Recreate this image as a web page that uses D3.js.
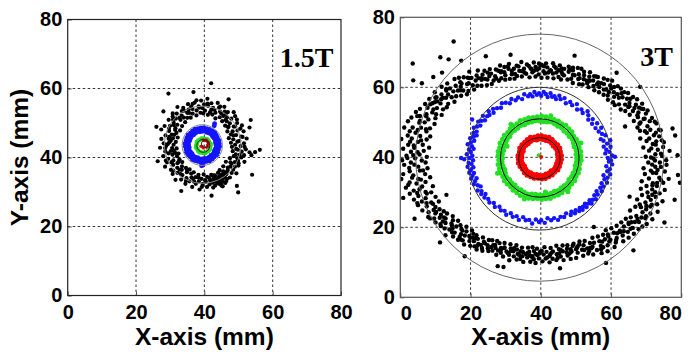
<!DOCTYPE html>
<html>
<head>
<meta charset="utf-8">
<script src="https://cdn.jsdelivr.net/npm/d3@7"></script>
<style>
  body { margin: 0; background: #fff; }
  svg { display: block; }
  .tick text { font-family: "Liberation Sans", Arial, sans-serif; font-weight: bold; font-size: 20px; fill: #000; }
  .axis-title { font-family: "Liberation Sans", Arial, sans-serif; font-weight: bold; font-size: 24.5px; }
  .field-label { font-family: "Liberation Serif", "Times New Roman", serif; font-weight: bold; font-size: 28px; }
</style>
</head>
<body>
<div id="root"></div>
<script>
// Axis ticks (mm)
const axisTicks = [0, 20, 40, 60, 80];
const gridTicks = [20, 40, 60];
const fieldLabels = ["1.5T", "3T"];

// Points as [angle deg, distance mm] from each ring centre.
// ---- 1.5T ----
const center15Black = [39.5, 43.7];
const black15 = [
  [0,9.5],[2,12.1],[4,8.3],[6,10.8],[8,13.0],[10,9.1],[12,11.5],[14,7.9],[16,10.2],[18,12.6],[20,8.8],[22,11.0],[24,9.6],[26,12.8],[28,8.2],[30,10.5],
  [32,11.9],[34,9.0],[36,12.4],[38,10.1],[40,8.6],[42,11.3],[44,9.8],[46,13.1],[48,10.7],[50,8.9],[52,12.0],[54,10.3],[56,11.6],[58,9.4],[60,12.7],
  [62,10.9],[64,8.5],[66,11.8],[68,10.0],[70,12.9],[72,9.2],[74,11.1],[76,10.4],[78,12.3],[80,8.8],[82,11.4],[84,13.4],[86,9.9],[88,11.7],[90,10.6],
  [92,12.8],[94,9.3],[96,11.2],[98,13.0],[100,10.1],[102,8.7],[104,12.2],[106,10.8],[108,9.5],[110,12.5],[112,11.0],[114,8.6],[116,10.3],[118,12.1],
  [120,9.0],[122,11.5],[124,13.2],[126,10.4],[128,8.3],[130,11.8],[132,9.7],[134,12.6],[136,10.9],[138,8.1],[140,11.3],[142,9.4],[144,12.3],[146,10.2],
  [148,7.8],[150,11.0],[152,9.1],[154,12.4],[156,8.4],[158,10.6],[160,12.9],[162,9.5],[164,7.6],[166,11.2],[168,8.9],[170,10.1],[172,12.2],[174,7.9],
  [176,9.8],[178,11.4],[180,8.5],[182,10.7],[184,12.5],[186,9.0],[188,7.7],[190,11.1],[192,8.6],[194,10.3],[196,12.0],[198,9.3],[200,7.5],[202,10.9],
  [204,8.2],[206,11.6],[208,9.7],[210,12.7],[212,8.0],[214,10.4],[216,9.1],[218,11.8],[220,7.8],[222,10.0],[224,12.2],[226,8.7],[228,11.0],[230,9.5],
  [232,12.9],[234,8.3],[236,10.6],[238,11.9],[240,9.2],[242,8.1],[244,10.8],[246,12.4],[248,9.0],[250,11.3],[252,8.4],[254,10.2],[256,12.6],[258,9.6],
  [260,11.5],[262,8.8],[264,10.7],[266,13.0],[268,9.9],[270,11.4],[272,8.6],[274,10.3],[276,12.3],[278,9.4],[280,11.7],[282,10.5],[284,12.8],[286,9.1],
  [288,11.2],[290,10.0],[291,12.0],[292,9.6],[294,11.0],[295,13.1],[296,10.4],[298,12.2],[299,9.3],[300,11.5],[302,10.2],[303,12.6],[304,8.9],[306,11.1],
  [308,9.8],[310,12.4],[312,10.6],[314,8.7],[316,11.8],[318,9.9],[320,12.9],[322,10.3],[324,8.4],[326,11.4],[328,9.6],[330,12.1],[332,10.7],[334,8.9],
  [336,11.3],[338,13.2],[340,9.7],[342,11.9],[344,10.1],[346,12.5],[348,9.0],[350,11.6],[351,13.9],[352,10.4],[354,12.7],[356,8.6],[358,11.1],
  [283,10.9],[287,12.4],[293,11.6],[297,10.8],[301,12.9],[305,10.5],[289,9.4],[296,13.4],
  [82,18.0],[124,17.9],[307,17.3],[329,16.9],[27,15.8],[159,14.5],[352,15.5],[355,16.8],[348,14.6],[200,14.0],[245,14.8],[280,15.0],
  [100,15.5],[60,15.2],[140,15.0],[310,15.6],[20,14.6],
  [5,10.2],[11,11.9],[17,9.4],[23,12.0],[29,10.9],[35,9.2],[41,12.6],[47,9.9],[53,11.2],[59,10.6],[65,12.2],[71,10.7],[77,9.6],[83,12.0],[89,9.1],
  [95,10.8],[101,12.4],[107,11.5],[113,10.0],[119,11.3],[125,9.6],[131,10.3],[137,12.0],[143,10.6],[149,9.3],[155,10.9],[161,8.8],[167,10.0],[173,9.4],
  [179,10.2],[185,11.0],[191,9.5],[197,8.3],[203,11.7],[209,10.4],[215,8.6],[221,11.4],[227,9.9],[233,10.7],[239,8.8],[245,11.6],[251,10.0],[257,11.0],
  [263,9.6],[269,12.2],[275,10.8],[281,9.8],[285,11.4],[288,10.2],[291,10.8],[294,12.5],[297,11.9],[300,10.3],[303,11.4],[306,12.2],[309,11.0],[315,10.4],
  [321,11.5],[327,10.1],[333,11.8],[339,10.8],[345,11.2],[353,9.9],[357,12.3]
];
const center15Blue = [39.4, 43.6];
const blue15 = [
  [0,4.0],[10,3.9],[20,4.1],[30,4.0],[40,3.9],[50,4.1],[60,4.0],[70,3.9],[80,4.1],[90,4.0],[100,3.9],[110,4.1],[120,4.0],[130,3.9],[140,4.1],[150,4.0],
  [160,3.9],[170,4.1],[180,4.0],[190,3.9],[200,4.1],[210,4.0],[220,3.9],[230,4.1],[240,4.0],[250,3.9],[260,4.1],[270,4.0],[280,3.9],[290,4.1],[300,4.0],
  [310,3.9],[320,4.1],[330,4.0],[340,3.9],[350,4.1],
  [5,5.0],[15,5.1],[25,4.9],[35,5.0],[45,5.2],[55,5.1],[65,5.0],[75,4.9],[85,5.1],[95,5.0],[105,4.9],[115,5.1],[125,5.0],[135,4.9],[145,5.1],[155,5.0],
  [165,4.9],[175,5.1],[185,5.0],[195,4.9],[205,5.1],[215,5.0],[225,4.9],[235,5.1],[245,5.0],[255,4.9],[265,5.1],[275,5.0],[285,4.9],[295,5.1],[305,5.0],
  [315,4.9],[325,5.1],[335,5.0],[345,4.9],[355,5.1],
  [58,6.6],[60,7.2],[268,6.0],[272,5.8]
];
const center15Green = [39.7, 43.4];
const green15 = [
  [0,2.1],[15,2.2],[30,2.0],[45,2.1],[60,2.2],[75,2.0],[90,2.1],[105,2.2],[120,2.0],[135,2.1],[150,2.2],[165,2.0],
  [180,2.1],[195,2.2],[210,2.0],[225,2.1],[240,2.2],[255,2.0],[270,2.1],[285,2.2],[300,2.0],[315,2.1],[330,2.2],[345,2.0]
];
const center15Red = [40.1, 43.9];
const red15 = [[0,1.0],[20,1.2],[45,1.1],[70,1.3],[90,1.0],[110,1.2],[210,1.3],[230,1.0],[250,1.2],[300,1.1],[320,1.2],[340,0.9]];
// fitted circles [cx, cy, r]
const fits15 = [[39.5, 43.7, 11.2], [39.4, 43.6, 5.9], [39.7, 43.4, 1.9], [40.1, 43.9, 1.0]];

// ---- 3T ----
const center3Black = [38.5, 38.5];
const black3 = [
  [0,32.1],[0,35.4],[1,37.2],[2,33.6],[3,31.4],[3,36.1],[4,34.2],[5,38.3],[6,32.5],[6,35.0],[7,36.6],[8,31.0],[9,33.8],[9,37.0],[10,34.9],[11,32.2],
  [12,36.0],[12,33.1],[13,30.6],[14,35.3],[15,32.8],[15,36.4],[16,34.0],[17,31.1],[18,33.5],[18,36.2],[19,30.7],[20,34.6],[21,32.0],[21,35.5],[22,33.2],
  [23,30.4],[24,34.4],[24,31.9],[25,35.2],[26,32.6],[27,30.1],[27,33.9],[28,31.4],[29,34.7],[29,32.2],[3,40.5],[14,40.2],[11,40.5],[22,27.5],
  [30,29.5],[30,33.0],[31,31.2],[32,28.6],[32,34.1],[33,30.4],[34,32.6],[35,29.0],[35,31.8],[36,27.9],[37,33.0],[38,30.1],[38,28.0],[39,31.5],[40,29.2],
  [41,27.3],[41,32.2],[42,30.0],[43,28.1],[44,31.1],[44,29.0],[45,27.4],[46,30.6],[47,28.5],[47,32.0],[48,27.0],[49,29.7],[50,28.2],[51,30.9],[51,26.6],
  [52,29.0],[53,27.4],[54,30.2],[55,26.3],[55,28.6],[56,29.8],[57,27.0],[58,28.9],[59,26.0],[59,30.1],[36,36.8],[48,34.5],
  [60,27.5],[61,25.6],[62,29.4],[63,26.8],[64,28.1],[65,25.1],[66,27.3],[66,29.6],[67,26.0],[68,28.4],[69,25.4],[70,27.6],[71,29.0],[72,26.2],[73,24.8],
  [73,28.0],[74,26.9],[75,25.3],[76,28.6],[77,26.4],[78,24.6],[78,27.7],[79,25.9],[80,28.8],[81,26.7],[82,24.5],[83,27.4],[84,25.6],[84,28.5],[85,26.2],
  [86,24.3],[87,27.8],[88,25.2],[88,28.3],[89,26.5],[70,32.5],
  [90,24.6],[90,27.3],[91,28.6],[92,25.8],[93,26.9],[94,24.4],[95,28.1],[96,25.5],[97,27.0],[98,29.0],[99,24.9],[100,26.6],[101,28.2],[102,25.3],[103,27.5],
  [104,24.7],[105,29.2],[105,26.1],[106,27.9],[107,25.0],[108,28.7],[109,26.4],[110,29.5],[110,25.2],[111,27.6],[112,26.0],[113,28.9],[114,25.6],[115,27.2],
  [116,29.7],[117,26.3],[118,28.0],[119,25.7],[119,30.0],[103,31.6],[115,33.5],
  [120,27.4],[121,29.3],[122,26.1],[122,31.0],[123,28.2],[124,30.0],[125,26.8],[126,29.0],[126,32.1],[127,27.5],[128,30.6],[129,28.4],[130,31.8],[130,27.2],
  [131,29.7],[132,32.6],[133,28.0],[133,30.9],[134,33.2],[135,29.1],[135,27.6],[136,31.6],[137,30.2],[138,33.8],[138,28.5],[139,31.0],[140,29.5],[141,32.7],
  [141,34.4],[142,30.3],[143,28.9],[144,33.1],[144,31.5],[145,35.0],[146,30.0],[146,32.4],[147,34.0],[148,29.8],[148,31.9],[149,33.5],[149,35.3],
  [126,36.0],[130,38.5],[140,38.0],[145,39.5],[136,37.0],[141,45.0],[124,41.7],[132,40.5],[146,42.0],
  [150,30.4],[150,33.9],[151,32.1],[152,35.6],[153,30.0],[153,34.5],[154,32.7],[155,36.3],[156,31.2],[156,34.0],[157,37.0],[158,32.9],[158,35.5],[159,30.8],
  [160,33.6],[160,37.6],[161,35.0],[162,31.6],[162,38.2],[163,34.1],[164,36.4],[164,32.3],[165,38.7],[166,35.2],[166,30.9],[167,33.7],[168,37.2],[168,31.7],
  [169,35.9],[170,34.0],[170,38.8],[171,32.5],[172,36.6],[172,30.6],[173,34.8],[174,37.9],[174,32.0],[175,35.6],[176,39.2],[176,33.1],[177,31.0],[177,36.8],
  [178,34.3],[179,38.0],[179,32.4],
  [180,35.5],[180,31.3],[181,37.4],[182,33.4],[182,39.0],[183,30.8],[184,35.9],[184,33.0],[185,37.8],[186,31.6],[186,35.0],[187,38.5],[188,33.7],[188,30.3],
  [189,36.3],[190,34.4],[190,31.8],[191,37.6],[192,33.0],[193,35.6],[193,30.0],[194,36.9],[195,32.4],[196,34.7],[196,30.9],[197,36.2],[198,32.9],[199,34.2],
  [199,30.1],[200,35.6],[201,31.8],[202,33.4],[202,29.7],[203,35.0],[204,31.2],[205,33.6],[206,30.4],[207,34.3],[207,32.0],[208,29.6],[209,33.0],[209,30.8],
  [186,41.5],[195,39.0],[205,38.0],[200,27.0],
  [210,31.5],[210,29.1],[211,33.2],[212,30.2],[213,28.1],[213,32.3],[214,30.9],[215,28.7],[216,32.0],[216,29.6],[217,27.6],[218,31.1],[219,29.0],[219,33.0],
  [220,27.9],[221,30.5],[222,28.4],[222,31.6],[223,26.9],[224,29.5],[225,31.2],[225,27.8],[226,29.0],[227,26.5],[227,30.4],[228,28.2],[229,27.0],[229,31.0],
  [230,29.3],[231,26.7],[232,28.5],[232,30.2],[233,27.3],[234,29.6],[235,26.1],[235,28.4],[236,30.0],[237,27.0],[238,28.8],[239,25.8],[239,29.4],
  [220,35.5],[233,33.5],
  [240,27.3],[241,25.4],[242,28.6],[243,26.5],[244,24.9],[244,28.0],[245,26.9],[246,25.2],[247,28.6],[248,26.3],[249,24.6],[249,27.6],[250,25.8],[251,28.4],
  [252,26.7],[253,24.4],[254,27.4],[254,25.5],[255,28.9],[256,26.1],[257,24.2],[257,27.5],[258,25.4],[259,28.2],[260,26.8],[261,24.6],[261,27.9],[262,25.8],
  [263,28.6],[264,26.3],[265,24.4],[265,27.2],[266,25.6],[267,28.4],[268,26.8],[268,24.2],[269,27.6],[269,25.3],[250,31.5],[253,31.2],
  [270,26.1],[270,28.7],[271,24.6],[272,27.4],[273,25.5],[274,28.3],[275,26.4],[276,24.3],[276,27.6],[277,25.7],[278,28.8],[279,26.6],[280,24.8],[280,27.9],
  [281,25.9],[282,28.5],[283,26.9],[284,24.5],[285,27.8],[285,25.6],[286,29.0],[287,26.5],[288,24.9],[289,28.1],[290,26.2],[290,29.3],[291,25.3],[292,27.4],
  [293,29.6],[294,26.0],[295,28.4],[295,25.6],[296,27.0],[297,29.9],[298,26.5],[299,28.6],[299,25.8],[283,31.0],
  [300,27.3],[300,30.0],[301,28.6],[302,26.4],[302,31.0],[303,29.2],[304,27.7],[305,30.5],[306,28.3],[306,32.0],[307,26.9],[308,30.2],[309,28.9],[309,32.6],
  [310,27.6],[311,31.3],[312,29.5],[313,33.0],[313,28.2],[314,30.7],[315,32.3],[315,29.1],[316,27.8],[317,31.6],[318,33.6],[318,30.0],[319,28.6],[320,32.4],
  [321,30.9],[321,34.1],[322,29.3],[323,32.9],[324,31.1],[324,34.6],[325,29.8],[326,33.4],[327,31.6],[327,35.0],[328,30.3],[329,33.0],[329,35.5],
  [305,35.0],[318,37.5],[312,24.8],
  [330,31.3],[330,34.0],[331,36.2],[332,32.5],[333,35.1],[333,30.2],[334,37.0],[335,33.6],[336,31.1],[336,35.8],[337,34.2],[338,37.5],[338,32.0],[339,35.0],
  [340,30.8],[340,33.3],[341,36.6],[342,34.5],[343,31.7],[343,37.8],[344,35.6],[345,33.0],[346,30.9],[346,36.4],[347,34.1],[348,37.6],[348,32.3],[349,35.2],
  [350,30.7],[350,33.9],[351,36.8],[352,32.6],[353,35.5],[353,38.2],[354,31.3],[355,34.5],[356,36.9],[356,32.9],[357,30.8],[358,35.7],[359,33.2],[359,37.3],
  [335,40.5],[345,41.0],[352,41.5],[340,28.5],[355,40.7],
  [1,34.0],[4,35.8],[7,33.2],[10,36.5],[13,34.6],[16,32.4],[19,35.9],[22,33.5],[25,32.0],[28,33.4],[31,30.8],[34,33.5],[37,31.0],[40,30.4],[43,32.0],
  [46,29.0],[49,31.3],[52,28.4],[55,30.0],[58,27.6],[61,28.5],[64,29.8],[67,27.2],[70,28.3],[73,26.4],[76,27.2],[79,28.0],[82,26.0],[85,27.6],[88,26.9],
  [91,26.2],[94,27.7],[97,25.9],[100,27.9],[103,26.0],[106,28.6],[109,27.3],[112,28.3],[115,26.5],[118,29.1],[121,27.9],[124,29.1],[127,30.3],[130,29.6],
  [133,31.4],[136,29.7],[139,32.3],[142,31.6],[145,32.2],[148,33.0],[151,34.3],[154,31.5],[157,33.8],[160,35.0],[163,32.6],[166,36.9],[169,33.2],[172,35.0],
  [175,33.7],[178,36.5],[181,34.5],[184,32.1],[187,35.4],[190,36.8],[193,33.9],[196,32.2],[199,35.6],[202,31.5],[205,32.0],[208,34.0],[211,30.4],[214,32.5],
  [217,29.8],[220,31.0],[223,28.5],[226,30.6],[229,28.4],[232,27.4],[235,29.2],[238,27.2],[241,28.0],[244,26.2],[247,27.3],[250,26.0],[253,27.0],[256,25.2],
  [259,26.6],[262,27.0],[265,25.9],[268,27.1],[271,26.4],[274,25.3],[277,27.3],[280,26.2],[283,28.0],[286,26.0],[289,27.2],[292,26.7],[295,27.3],[298,28.2],
  [301,29.6],[304,29.0],[307,31.0],[310,29.5],[313,30.8],[316,31.9],[319,30.8],[322,31.9],[325,33.0],[328,32.2],[331,33.2],[334,35.0],[337,32.6],[340,35.2],
  [343,33.6],[346,35.1],[349,33.9],[352,36.1],[355,33.5],[358,34.1],
  [2.5,32.9],[8.5,34.6],[14.5,36.8],[20.5,31.6],[26.5,34.3],[32.5,31.7],[38.5,32.3],[44.5,30.2],[50.5,29.4],[56.5,28.0],[62.5,27.2],[68.5,29.1],[74.5,27.9],
  [80.5,26.6],[86.5,28.0],[92.5,26.8],[98.5,26.4],[104.5,27.0],[110.5,27.9],[116.5,28.4],[122.5,28.6],[128.5,31.0],[134.5,30.4],[140.5,33.0],[146.5,33.8],
  [152.5,32.8],[158.5,36.2],[164.5,34.8],[170.5,36.2],[176.5,34.9],[182.5,36.0],[188.5,33.0],[194.5,34.8],[200.5,33.1],[206.5,31.6],[212.5,31.3],[218.5,30.2],
  [224.5,30.3],[230.5,27.9],[236.5,28.2],[242.5,27.2],[248.5,26.7],[254.5,26.2],[260.5,25.7],[266.5,26.6],[272.5,26.0],[278.5,27.0],[284.5,26.8],[290.5,27.7],
  [296.5,26.8],[302.5,28.9],[308.5,30.9],[314.5,29.6],[320.5,31.2],[326.5,31.8],[332.5,34.0],[338.5,33.9],[344.5,34.5],[350.5,35.1],[356.5,34.8]
];
const center3Blue = [39.5, 39.8];
const blue3 = [
  [0,19.6],[2,20.8],[4,18.9],[5,20.1],[7,19.3],[9,20.6],[10,18.7],[12,19.8],[14,20.9],[15,19.0],[17,18.4],[19,20.0],[21,19.2],[24,18.6],[26,19.7],[28,18.2],
  [31,19.3],[33,18.0],[36,18.9],[38,17.8],[41,18.6],[44,19.2],[46,17.9],[49,18.4],[52,17.6],[55,18.8],[58,17.8],[61,18.3],[64,17.4],[67,18.6],[70,17.9],
  [72,18.7],[74,17.5],[76,18.2],[78,17.9],[80,18.8],[82,17.6],[84,18.4],[86,18.9],[88,17.8],[90,18.5],[92,18.1],[94,18.9],[96,17.7],[98,18.4],[100,17.9],
  [103,18.7],[106,17.5],[109,18.3],[112,17.8],[115,18.6],[118,17.7],[121,18.4],[124,18.9],[127,18.0],[130,18.6],[133,19.2],[135,18.3],[137,19.6],[139,18.7],
  [141,19.0],[143,20.0],[145,18.8],[147,19.5],[149,20.2],[151,19.1],[153,19.8],[155,20.5],[157,19.3],[159,20.0],[160,18.9],[162,19.6],[164,20.4],[165,19.1],
  [167,19.9],[169,20.7],[170,19.4],[172,18.8],[173,20.1],[175,19.5],[177,20.6],[178,19.0],[180,19.8],[181,21.3],[182,18.8],[184,20.1],[185,19.3],[187,20.5],
  [188,18.9],[190,19.7],[192,20.3],[193,19.0],[195,19.6],[197,20.2],[198,18.7],[200,19.4],[202,20.0],[204,19.1],[206,18.5],[208,19.8],[210,18.9],[212,19.4],
  [214,18.4],[216,19.2],[219,18.6],[222,19.0],[225,18.2],[228,18.8],[231,17.9],[234,18.5],[237,18.0],[240,18.7],[243,17.7],[246,18.4],[249,17.8],[252,18.6],
  [255,17.5],[258,18.2],[261,17.9],[264,18.8],[267,17.6],[270,18.3],[272,17.8],[275,18.6],[278,17.4],[281,18.1],[284,17.7],[287,18.5],[290,17.9],[293,18.3],
  [296,17.6],[299,18.6],[301,17.9],[303,18.8],[305,18.2],[307,19.0],[309,18.4],[310,19.3],[312,18.7],[314,19.5],[315,18.5],[317,19.1],[319,19.8],[320,18.8],
  [322,19.4],[324,20.0],[326,19.0],[328,19.7],[330,18.9],[332,20.2],[334,19.4],[336,20.0],[338,19.2],[340,20.6],[342,19.6],[344,20.3],[345,19.0],[347,20.8],
  [349,19.8],[351,20.4],[353,19.3],[355,20.9],[357,19.9],[358,20.5],[150,22.0],[180,22.2],[1,21.6]
];
const center3Green = [39.6, 39.8];
const green3 = [
  [0,10.6],[6,10.5],[12,10.7],[18,10.4],[24,10.6],[30,10.8],[36,10.5],[42,10.6],[48,10.4],[54,10.7],[60,10.5],[66,10.6],[72,10.8],[78,10.5],[84,10.4],
  [90,10.6],[96,10.7],[102,10.5],[108,10.6],[114,10.4],[120,10.7],[126,10.5],[132,10.6],[138,10.8],[144,10.4],[150,10.6],[156,10.5],[162,10.7],[168,10.4],
  [174,10.6],[180,10.5],[186,10.7],[192,10.6],[198,10.4],[204,10.6],[210,10.8],[216,10.5],[222,10.6],[228,10.4],[234,10.7],[240,10.5],[246,10.6],[252,10.8],
  [258,10.5],[264,10.4],[270,10.6],[276,10.7],[282,10.5],[288,10.6],[294,10.4],[300,10.7],[306,10.5],[312,10.6],[318,10.8],[324,10.4],[330,10.6],[336,10.5],
  [342,10.7],[348,10.4],[354,10.6],
  [3,11.8],[9,11.9],[15,11.7],[21,12.0],[27,11.8],[33,11.6],[39,11.9],[45,11.8],[51,12.0],[57,11.7],[63,11.9],[69,11.8],[75,11.6],[81,11.9],[87,12.0],
  [93,11.8],[99,11.7],[105,11.9],[111,11.8],[117,12.0],[123,11.7],[129,11.9],[135,11.8],[141,11.6],[147,11.9],[153,11.8],[159,12.0],[165,11.7],[171,11.9],
  [177,11.8],[183,11.6],[189,11.9],[195,11.8],[201,12.0],[207,11.7],[213,11.9],[219,11.8],[225,11.6],[231,11.9],[237,11.8],[243,12.0],[249,11.7],[255,11.9],
  [261,11.8],[267,11.6],[273,11.9],[279,11.8],[285,12.0],[291,11.7],[297,11.9],[303,11.8],[309,11.6],[315,11.9],[321,11.8],[327,12.0],[333,11.7],[339,11.9],
  [345,11.8],[351,11.6],[357,11.9],
  [20,12.6],[75,12.5],[130,12.6],[200,12.7],[250,12.5],[310,12.6],[160,9.8],[280,9.9]
];
const center3Red = [39.7, 40.0];
const red3 = [
  [0,5.2],[10,5.1],[20,5.3],[30,5.2],[40,5.0],[50,5.2],[60,5.3],[70,5.1],[80,5.2],[90,5.2],[100,5.0],[110,5.3],[120,5.2],[130,5.1],[140,5.2],[150,5.3],
  [160,5.0],[170,5.2],[180,5.1],[190,5.3],[200,5.2],[210,5.0],[220,5.2],[230,5.3],[240,5.1],[250,5.2],[260,5.0],[270,5.2],[280,5.3],[290,5.1],[300,5.2],
  [310,5.0],[320,5.3],[330,5.2],[340,5.1],[350,5.2],
  [5,6.2],[15,6.1],[25,6.3],[35,6.2],[45,6.0],[55,6.2],[65,6.3],[75,6.1],[85,6.2],[95,6.2],[105,6.0],[115,6.3],[125,6.2],[135,6.1],[145,6.2],[155,6.3],
  [165,6.0],[175,6.2],[185,6.1],[195,6.3],[205,6.2],[215,6.0],[225,6.2],[235,6.3],[245,6.1],[255,6.2],[265,6.0],[275,6.2],[285,6.3],[295,6.1],[305,6.2],
  [315,6.0],[325,6.3],[335,6.2],[345,6.1],[355,6.2]
];
const fits3 = [[39.7, 39.9, 35.3], [39.6, 39.6, 20.4], [39.7, 39.8, 11.2], [39.6, 39.7, 5.9]];
const centerMarks3 = [[39.4, 40.6], [40.1, 40.1]];

const width = 691;
const height = 354;

const svg = d3.select("#root")
  .append("svg")
    .attr("width", width)
    .attr("height", height);

const defs = svg.append("defs");

const toXY = (center, pts) => pts.map(([a, r]) => [
  center[0] + r * Math.cos(a * Math.PI / 180),
  center[1] + r * Math.sin(a * Math.PI / 180)
]);

const panels = [
  {
    name: "p15", left: 67.7, right: 341, top: 19.5, bottom: 295.5, frame: "#222",
    label: fieldLabels[0], labelX: 333.5, labelY: 66.7, edgeLabels: false,
    layers: [
      { pts: toXY(center15Black, black15), color: "#000", r: 2.1 },
      { pts: toXY(center15Blue, blue15), color: "#1414ff", r: 2.4 },
      { pts: toXY(center15Green, green15), color: "#22e022", r: 2.3 },
      { pts: toXY(center15Red, red15), color: "#ff0000", r: 1.6 }
    ],
    fits: fits15, fitColors: ["#8a8a8a", "#8a8a8a", "#222", "#222"],
    marks: [], yTitle: true
  },
  {
    name: "p3", left: 400.3, right: 681.3, top: 17.3, bottom: 297.3, frame: "#555",
    label: fieldLabels[1], labelX: 673, labelY: 65.7, edgeLabels: true,
    layers: [
      { pts: toXY(center3Black, black3), color: "#000", r: 2.2 },
      { pts: toXY(center3Blue, blue3), color: "#1414ff", r: 2.2 },
      { pts: toXY(center3Green, green3), color: "#22e022", r: 2.5 },
      { pts: toXY(center3Red, red3), color: "#ff0000", r: 2.5 }
    ],
    fits: fits3, fitColors: ["#666", "#333", "#000", "#000"],
    marks: centerMarks3, markColors: ["#22e022", "#ff0000"], yTitle: false
  }
];

panels.forEach(p => {
  const x = d3.scaleLinear().domain([0, 80]).range([p.left, p.right]);
  const y = d3.scaleLinear().domain([0, 80]).range([p.bottom, p.top]);
  const g = svg.append("g");

  defs.append("clipPath")
    .attr("id", "clip-" + p.name)
    .append("rect")
      .attr("x", p.left)
      .attr("y", p.top)
      .attr("width", p.right - p.left)
      .attr("height", p.bottom - p.top);

  // grid
  g.selectAll("line.gx").data(gridTicks).enter()
    .append("line")
      .attr("x1", d => x(d)).attr("x2", d => x(d))
      .attr("y1", p.top).attr("y2", p.bottom)
      .attr("stroke", "#333").attr("stroke-width", 1)
      .attr("stroke-dasharray", "2.5,2.5");
  g.selectAll("line.gy").data(gridTicks).enter()
    .append("line")
      .attr("y1", d => y(d)).attr("y2", d => y(d))
      .attr("x1", p.left).attr("x2", p.right)
      .attr("stroke", "#333").attr("stroke-width", 1)
      .attr("stroke-dasharray", "2.5,2.5");

  // axes
  const xAxis = g.append("g")
    .attr("transform", `translate(0, ${p.bottom})`)
    .call(d3.axisBottom(x).tickValues(axisTicks).tickSize(-4).tickSizeOuter(0).tickPadding(8.8))
    .call(a => a.select(".domain").remove())
    .call(a => a.selectAll(".tick line").attr("stroke", "#555"));
  if (p.edgeLabels) {
    // the outer tick labels of the right panel sit inside the window
    xAxis.selectAll(".tick text")
      .attr("text-anchor", d => d === 0 ? "start" : d === 80 ? "end" : "middle");
  }
  g.append("g")
    .attr("transform", `translate(${p.left}, 0)`)
    .call(d3.axisLeft(y).tickValues(axisTicks).tickSize(-4).tickSizeOuter(0).tickPadding(5.4))
    .call(a => a.select(".domain").remove())
    .call(a => a.selectAll(".tick line").attr("stroke", "#555"));

  // points
  const plot = g.append("g").attr("clip-path", `url(#clip-${p.name})`);
  p.layers.forEach(l => {
    plot.append("g")
      .selectAll("circle")
      .data(l.pts)
      .enter()
      .append("circle")
        .attr("cx", d => x(d[0]))
        .attr("cy", d => y(d[1]))
        .attr("r", l.r)
        .attr("fill", l.color);
  });

  // fitted circles
  plot.append("g")
    .selectAll("ellipse")
    .data(p.fits)
    .enter()
    .append("ellipse")
      .attr("cx", d => x(d[0]))
      .attr("cy", d => y(d[1]))
      .attr("rx", d => x(d[0] + d[2]) - x(d[0]))
      .attr("ry", d => y(d[1]) - y(d[1] + d[2]))
      .attr("fill", "none")
      .attr("stroke", (d, i) => p.fitColors[i])
      .attr("stroke-width", 1);

  plot.append("g")
    .selectAll("circle")
    .data(p.marks)
    .enter()
    .append("circle")
      .attr("cx", d => x(d[0]))
      .attr("cy", d => y(d[1]))
      .attr("r", 2)
      .attr("fill", (d, i) => p.markColors[i]);

  // frame
  g.append("rect")
    .attr("x", p.left).attr("y", p.top)
    .attr("width", p.right - p.left).attr("height", p.bottom - p.top)
    .attr("fill", "none").attr("stroke", p.frame).attr("stroke-width", 1.2);

  g.append("text")
    .attr("class", "field-label")
    .attr("x", p.labelX).attr("y", p.labelY)
    .attr("text-anchor", "end")
    .text(p.label);

  g.append("text")
    .attr("class", "axis-title")
    .attr("transform", `translate(${(p.left + p.right) / 2}, 344.5)`)
    .attr("text-anchor", "middle")
    .text("X-axis (mm)");

  if (p.yTitle) {
    g.append("text")
      .attr("class", "axis-title")
      .attr("transform", `translate(28, ${(p.top + p.bottom) / 2})rotate(-90)`)
      .attr("text-anchor", "middle")
      .text("Y-axis (mm)");
  }
});
</script>
</body>
</html>
